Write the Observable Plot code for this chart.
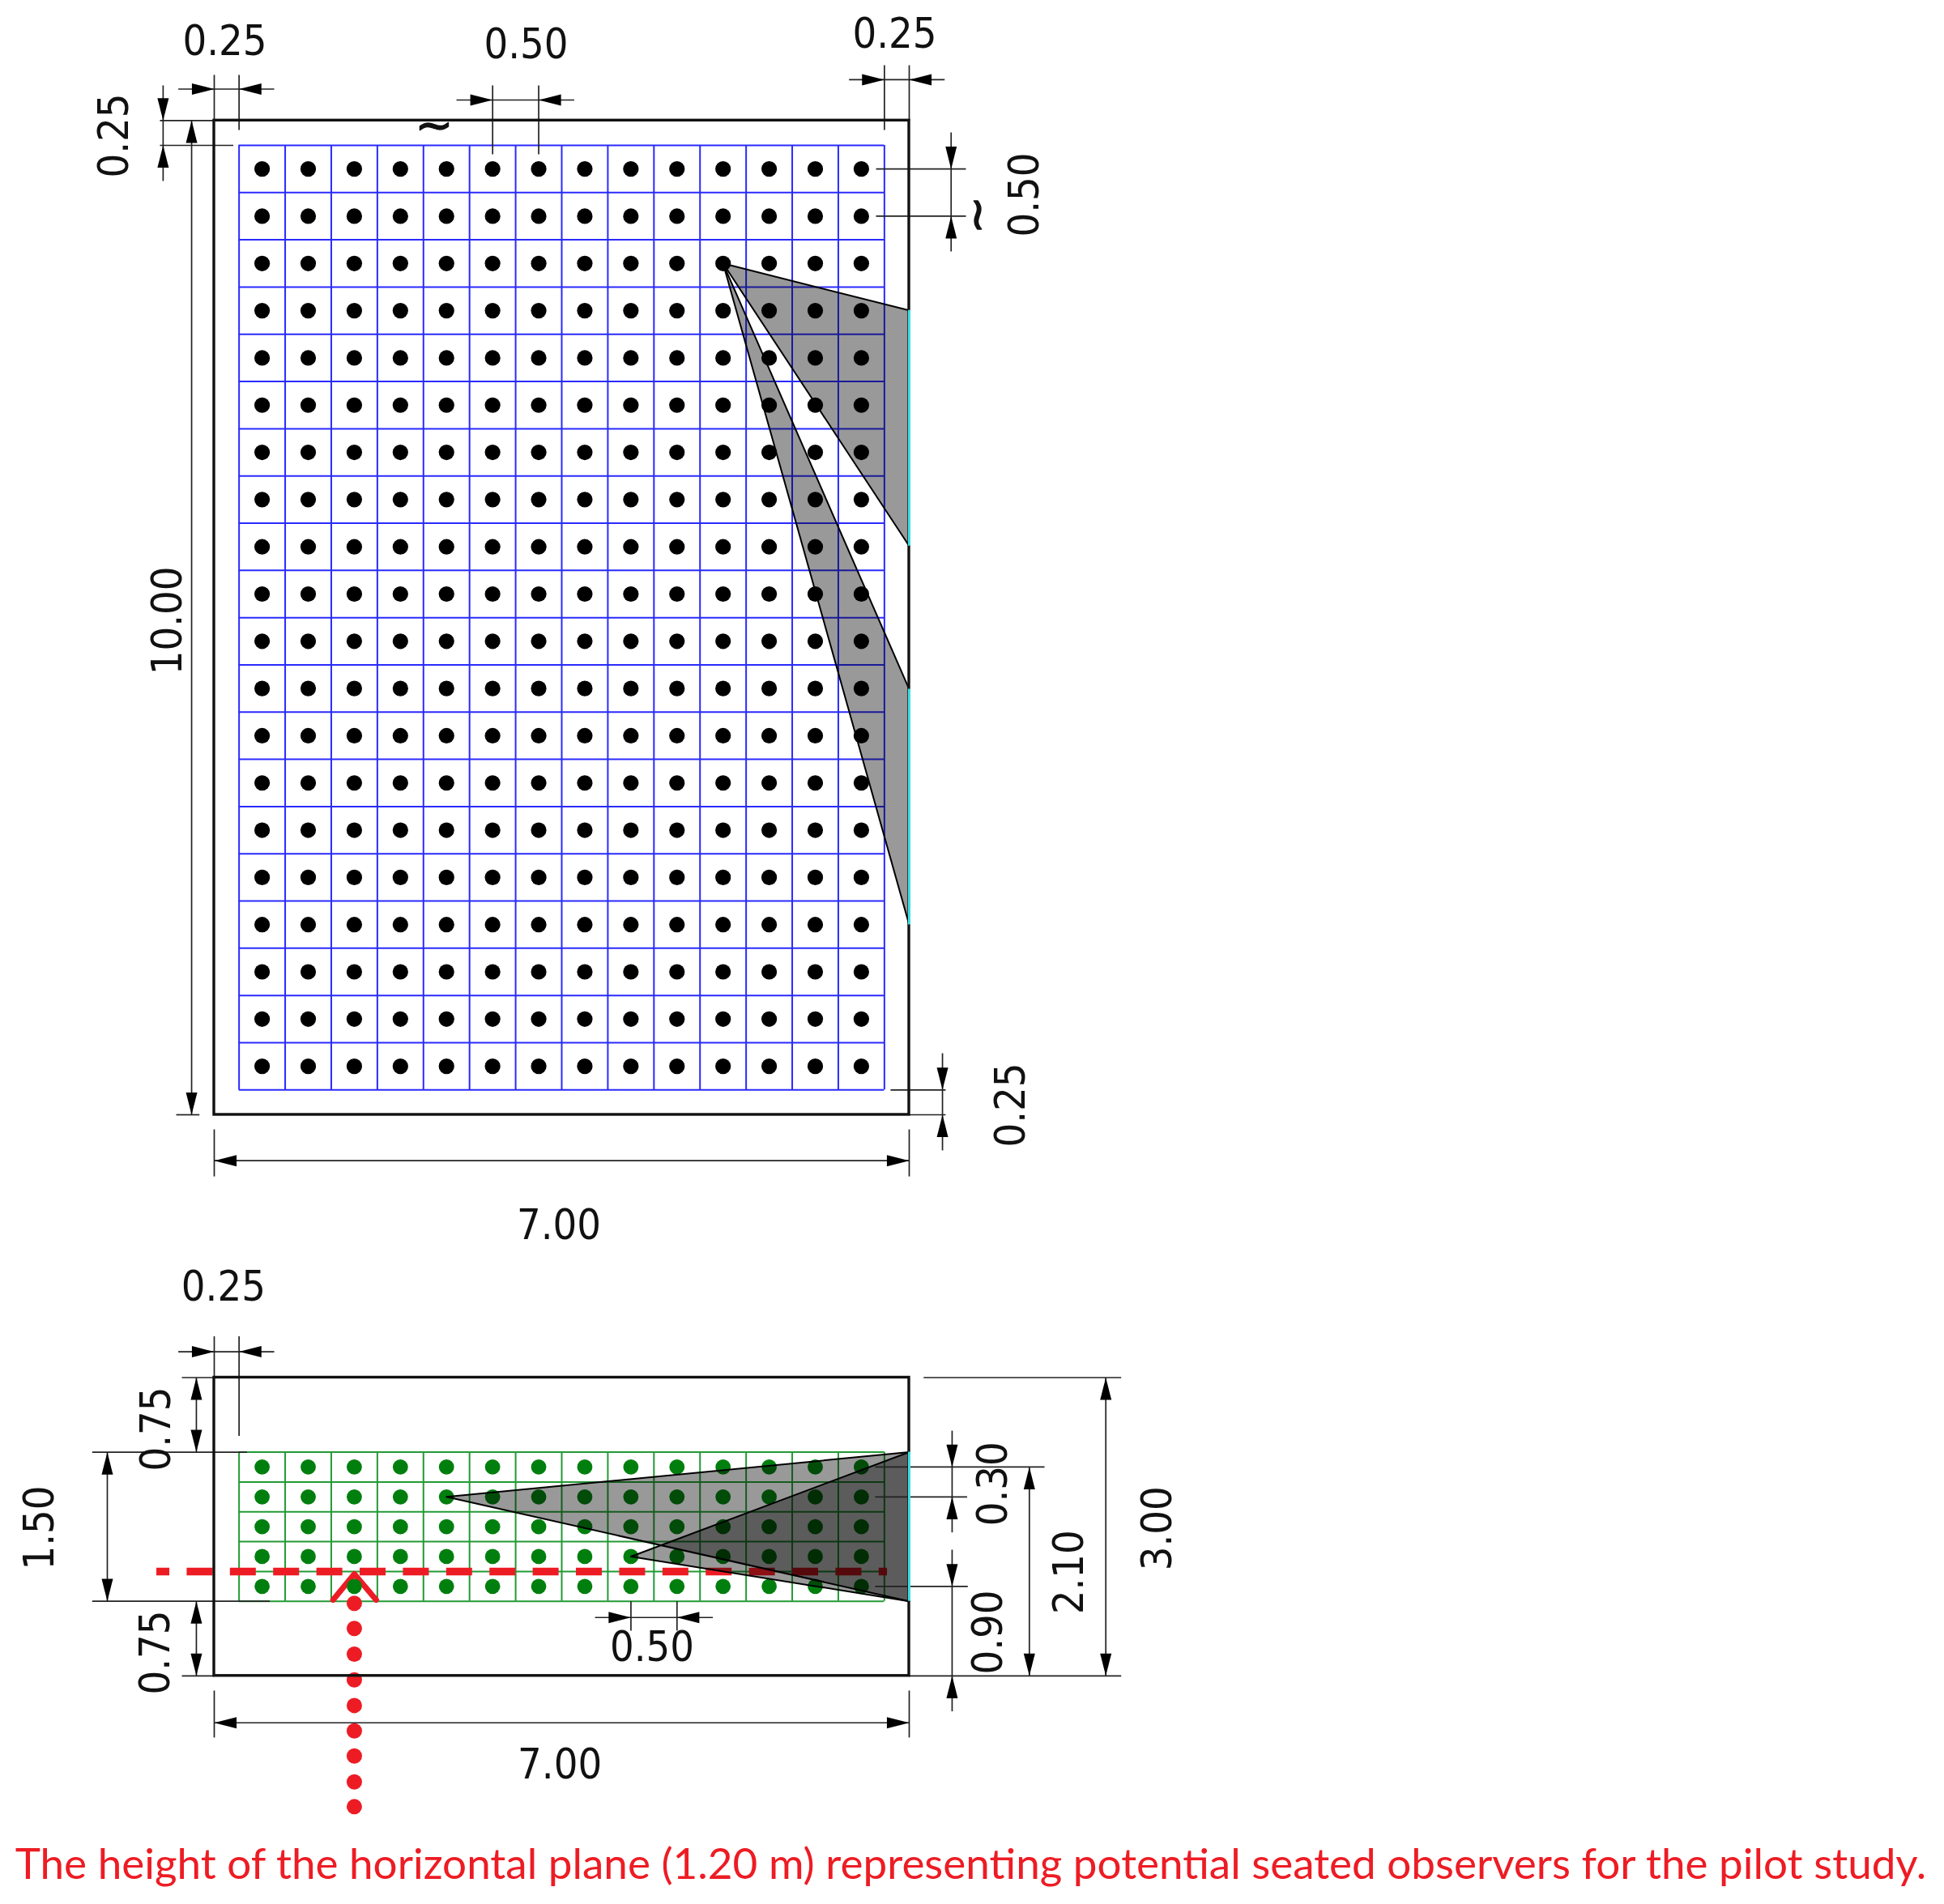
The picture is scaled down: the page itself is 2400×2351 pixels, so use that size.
<!DOCTYPE html>
<html><head><meta charset="utf-8">
<script src="https://cdn.jsdelivr.net/npm/d3@7"></script>
<script src="https://cdn.jsdelivr.net/npm/@observablehq/plot@0.6"></script>
<style>html,body{margin:0;padding:0;background:#fff}svg{display:block}</style>
</head><body><div id="chart"></div>
<script>
// All lengths in metres. Plan view depth runs 0..10, the section view is shifted by sideShift.
const sideShift = 12.643;
const colEdges = d3.range(15).map(i => 0.25 + i * 6.5 / 14);
const colCentres = d3.range(14).map(i => 0.25 + (i + 0.5) * 6.5 / 14);
const planRowEdges = d3.range(21).map(i => 0.25 + i * 0.475);
const planRowCentres = d3.range(20).map(i => 0.25 + (i + 0.5) * 0.475);
const sideRowEdges = [0.75, 1.05, 1.35, 1.65, 1.95, 2.25];
const sideRowCentres = [0.9, 1.2, 1.5, 1.8, 2.1];

const planWindows = [[1.91, 4.28], [5.72, 8.09]];
const sideWindows = [[0.75, 2.25]];
const planApex = [5.125, 1.4375];
const sideApexes = [[2.339, 1.2], [4.197, 1.8]];
const planeDepth = 1.95;
const planeSpan = [-0.579, 6.78];
const chevron = [[1.197, 2.236], [1.411, 1.975], [1.631, 2.236]];
const sightDots = [2.271, 2.523, 2.782, 3.04, 3.298, 3.554, 3.806, 4.067, 4.316];

// dimension lines in the plan view: [x1, y1, x2, y2]
const planDimLines = [
  [0, -0.459, 0, 0], [0.25, -0.459, 0.25, 0.095], [-0.362, -0.316, 0.604, -0.316],
  [-0.515, -0.353, -0.515, 0.608], [-0.547, 0, 0, 0], [-0.547, 0.25, 0.192, 0.25],
  [-0.228, 0, -0.228, 10], [-0.383, 10, -0.149, 10],
  [2.804, -0.353, 2.804, 0.34], [3.268, -0.353, 3.268, 0.34], [2.44, -0.206, 3.626, -0.206],
  [6.75, -0.556, 6.75, 0.095], [7, -0.556, 7, 0], [6.394, -0.41, 7.357, -0.41],
  [7.422, 0.12, 7.422, 1.317], [6.666, 0.4875, 7.571, 0.4875], [6.666, 0.9625, 7.571, 0.9625],
  [7.335, 9.381, 7.335, 10.358], [6.812, 9.75, 7.367, 9.75], [7, 10, 7.367, 10],
  [0, 10.462, 7, 10.462], [0, 10.147, 0, 10.62], [7, 10.147, 7, 10.62]
];
// dimension lines in the section view: [x1, depth1, x2, depth2]
const sideDimLines = [
  [0, -0.415, 0, 0], [0.25, -0.415, 0.25, 0.586], [-0.362, -0.26, 0.604, -0.26],
  [-0.326, 0, 0, 0], [-0.18, 0, -0.18, 0.75], [-1.229, 0.75, 0.33, 0.75],
  [-1.077, 0.75, -1.077, 2.25], [-1.229, 2.25, 0.56, 2.25],
  [-0.18, 2.25, -0.18, 3], [-0.326, 3, 0, 3],
  [7.145, 0, 9.135, 0], [7, 3, 9.135, 3], [8.98, 0, 8.98, 3],
  [8.21, 0.9, 8.21, 3], [6.657, 0.9, 8.363, 0.9],
  [7.432, 0.534, 7.432, 1.557], [6.657, 1.2, 7.583, 1.2],
  [7.432, 1.731, 7.432, 3.357], [6.657, 2.1, 7.59, 2.1],
  [4.197, 2.25, 4.197, 2.545], [4.661, 2.25, 4.661, 2.545], [3.835, 2.413, 5.022, 2.413],
  [0, 3.472, 7, 3.472], [0, 3.148, 0, 3.62], [7, 3.148, 7, 3.62]
];
// arrow tips: [x, y, pointing direction]
const planTips = [
  [0, -0.316, "R"], [0.25, -0.316, "L"], [-0.515, 0, "D"], [-0.515, 0.25, "U"],
  [-0.228, 0, "U"], [-0.228, 10, "D"], [2.804, -0.206, "R"], [3.268, -0.206, "L"],
  [6.75, -0.41, "R"], [7, -0.41, "L"], [7.422, 0.4875, "D"], [7.422, 0.9625, "U"],
  [7.335, 9.75, "D"], [7.335, 10, "U"], [0, 10.462, "L"], [7, 10.462, "R"]
];
const sideTips = [
  [0, -0.26, "R"], [0.25, -0.26, "L"], [-0.18, 0, "U"], [-0.18, 0.75, "D"],
  [-1.077, 0.75, "U"], [-1.077, 2.25, "D"], [-0.18, 2.25, "U"], [-0.18, 3, "D"],
  [8.98, 0, "U"], [8.98, 3, "D"], [8.21, 0.9, "U"], [8.21, 3, "D"],
  [7.432, 0.9, "D"], [7.432, 1.2, "U"], [7.432, 2.1, "D"], [7.432, 3, "U"],
  [4.197, 2.413, "R"], [4.661, 2.413, "L"], [0, 3.472, "L"], [7, 3.472, "R"]
];
// labels: [text, x, y, rotation]
const planLabels = [
  ["0.25", 0.106, -0.792, 0], ["0.25", -1.004, 0.152, -90], ["10.00", -0.465, 5.03, -90],
  ["0.50", 3.141, -0.76, 0], ["0.25", 6.853, -0.868, 0], ["0.50", 8.167, 0.747, -90],
  ["0.25", 8.028, 9.902, -90], ["7.00", 3.472, 11.116, 0]
];
const sideLabels = [
  ["0.25", 0.093, -0.911, 0], ["0.75", -0.579, 0.517, -90], ["1.50", -1.759, 1.511, -90],
  ["0.75", -0.592, 2.765, -90], ["3.00", 9.501, 1.517, -90], ["2.10", 8.616, 1.957, -90],
  ["0.30", 7.844, 1.069, -90], ["0.90", 7.795, 2.562, -90], ["0.50", 4.41, 2.715, 0],
  ["7.00", 3.481, 3.898, 0]
];
const tildes = [[2.215, 0.055, 0], [7.694, 0.95, 90]];
const caption = "The height of the horizontal plane (1.20 m) representing potential seated observers for the pilot study.";
const captionPos = [7.62, 4.9];

const red = "#ed1c24", blue = "#2a2aff", green = "#239a35", cyan = "#3fdede";
const cross = (a, b) => a.flatMap(u => b.map(v => [u, v]));
const links = (rows, dy) => rows.map(([x1, y1, x2, y2]) => ({x1, x2, y1: y1 + dy, y2: y2 + dy}));
const poly = (id, pts) => pts.map(([x, y]) => ({id, x, y}));
const arrowLen = 0.225, arrowHalf = 0.057;
const arrows = (tips, dy, tag) => tips.flatMap(([x, y0, d], i) => {
  const y = y0 + dy;
  const [ux, uy] = {R: [1, 0], L: [-1, 0], D: [0, 1], U: [0, -1]}[d];
  return poly(tag + i, [[x, y],
    [x - ux * arrowLen - uy * arrowHalf, y - uy * arrowLen - ux * arrowHalf],
    [x - ux * arrowLen + uy * arrowHalf, y - uy * arrowLen + ux * arrowHalf]]);
});
const wedges = [
  ...planWindows.map(([a, b], i) => poly("p" + i, [planApex, [7, a], [7, b], planApex])),
  ...sideApexes.map(([x, d], i) => {
    const apex = [x, d + sideShift];
    return poly("s" + i, [apex, [7, sideRowEdges[0] + sideShift], [7, sideRowEdges[5] + sideShift], apex]);
  })
].flat();
const labelRows = [...planLabels, ...sideLabels.map(([t, x, y, r]) => [t, x, y + sideShift, r])];
const font = {fontFamily: "'DejaVu Sans Condensed', 'DejaVu Sans', sans-serif", fontSize: 52, fill: "#111", textAnchor: "middle", lineAnchor: "middle"};
const gridV = (top, bottom, stroke) => Plot.ruleX(colEdges, {y1: top, y2: bottom, stroke, strokeWidth: 2});
const gridH = (rows, stroke) => Plot.ruleY(rows, {x1: colEdges[0], x2: colEdges[14], stroke, strokeWidth: 2});
const walls = [[0, planWindows], [sideShift, sideWindows]];

const chart = Plot.plot({
  width: 2400, height: 2351, margin: 0,
  x: {domain: [0, 7], range: [264, 1122], axis: null},
  y: {domain: [0, 10], range: [148.3, 1376], axis: null},
  marks: [
    // grids
    gridV(planRowEdges[0], planRowEdges[20], blue),
    gridH(planRowEdges, blue),
    gridV(sideRowEdges[0] + sideShift, sideRowEdges[5] + sideShift, green),
    gridH(sideRowEdges.map(d => d + sideShift), green),
    // horizontal plane and observer
    Plot.ruleY([planeDepth + sideShift], {x1: planeSpan[0], x2: planeSpan[1], stroke: red, strokeWidth: 9.5, strokeDasharray: "32,21.4", strokeDashoffset: 16}),
    Plot.line(chevron.map(([x, d]) => ({x, y: d + sideShift})), {x: "x", y: "y", stroke: red, strokeWidth: 7}),
    // observer points
    Plot.dot(cross(colCentres, planRowCentres), {x: d => d[0], y: d => d[1], r: 9.6, fill: "black"}),
    Plot.dot(cross(colCentres, sideRowCentres), {x: d => d[0], y: d => d[1] + sideShift, r: 9.4, fill: "#007f0e"}),
    Plot.dot(sightDots, {x: chevron[1][0], y: d => d + sideShift, r: 9.5, fill: red}),
    // daylight wedges
    Plot.line(wedges, {x: "x", y: "y", z: "id", fill: "black", fillOpacity: 0.4, stroke: "black", strokeWidth: 2, strokeLinejoin: "miter"}),
    // dimensioning
    Plot.link(links(planDimLines, 0), {x1: "x1", x2: "x2", y1: "y1", y2: "y2", stroke: "#222", strokeWidth: 1.7}),
    Plot.link(links(sideDimLines, sideShift), {x1: "x1", x2: "x2", y1: "y1", y2: "y2", stroke: "#222", strokeWidth: 1.7}),
    Plot.line([...arrows(planTips, 0, "a"), ...arrows(sideTips, sideShift, "b")], {x: "x", y: "y", z: "id", fill: "black", stroke: "none"}),
    // text under the walls: the tilde rises into the wall line
    Plot.text(tildes, {x: d => d[0], y: d => d[1], text: () => "~", rotate: d => d[2], ...font, fontFamily: "'DejaVu Sans', sans-serif", fontSize: 56, stroke: "#111", strokeWidth: 1.4}),
    // walls and windows
    Plot.rect([[0, 10], [sideShift, sideShift + 3]], {x1: 0, x2: 7, y1: d => d[0], y2: d => d[1], fill: "none", stroke: "#111", strokeWidth: 3.4}),
    ...walls.map(([dy, spans]) => Plot.ruleX(spans, {x: 7, y1: d => d[0] + dy, y2: d => d[1] + dy, stroke: cyan, strokeWidth: 3})),
    // text
    Plot.text(labelRows, {x: d => d[1], y: d => d[2], text: d => d[0], rotate: d => d[3], ...font}),
    Plot.text([captionPos], {x: d => d[0], y: d => d[1] + sideShift, text: () => caption, fontFamily: "Lato, sans-serif", fontSize: 53, fill: red, textAnchor: "middle", lineAnchor: "middle"})
  ]
});
document.getElementById("chart").append(chart);
</script>
</body></html>
